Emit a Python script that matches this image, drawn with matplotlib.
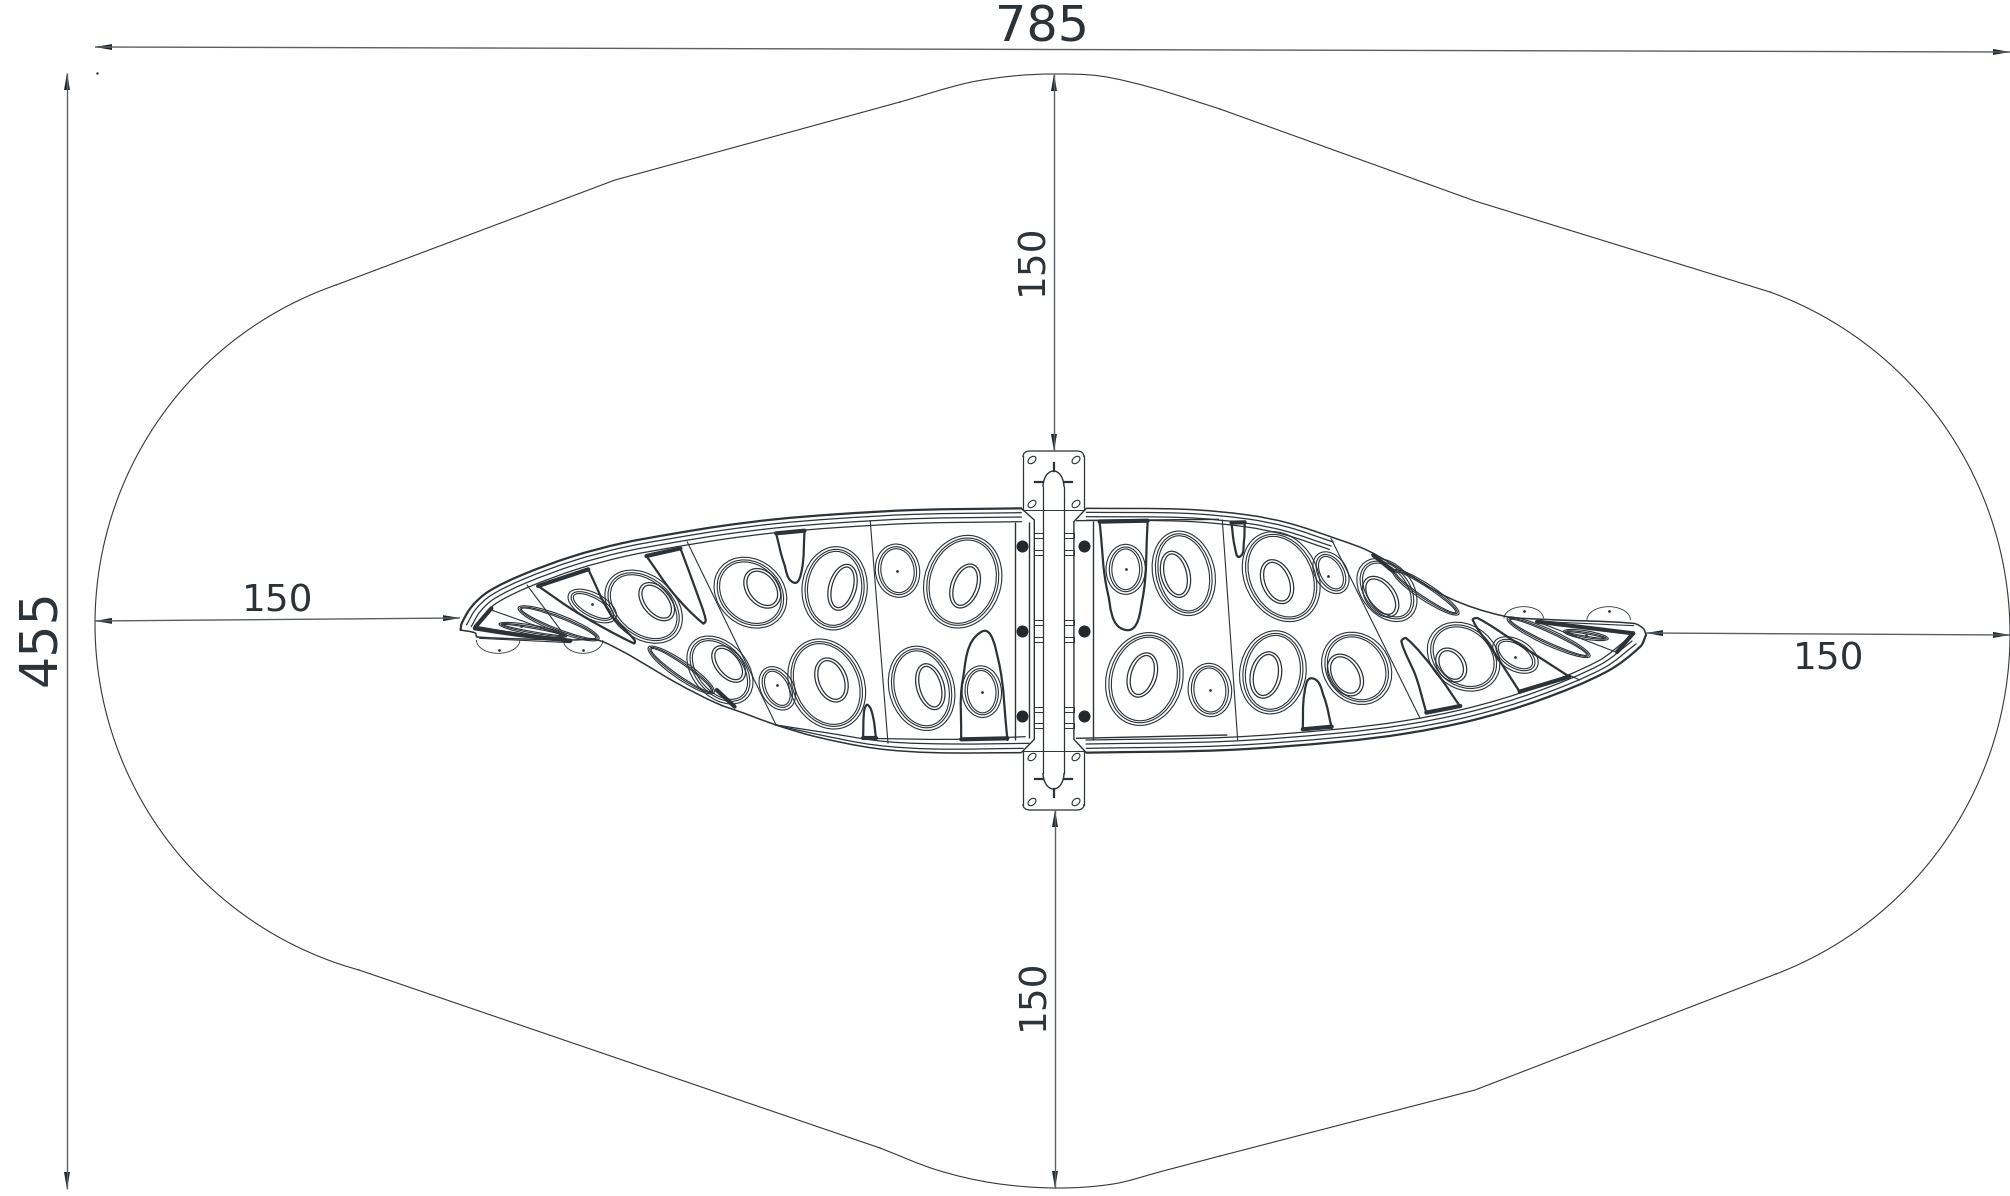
import numpy as np
import matplotlib
matplotlib.use("Agg")
import matplotlib.pyplot as plt
from matplotlib.path import Path
from matplotlib.patches import PathPatch, Ellipse, Polygon, Arc, Rectangle
from matplotlib.transforms import Affine2D

INK = "#2b3238"

# ---- dimensions -----------------------------------------------------------
DIM_VALUES = ["785", "455", "150", "150", "150", "150"]
DIM_TEXT_XY = [(1042, 27), (41, 638), (1032, 259), (1033, 994), (278, 601), (1829, 660)]
DIM_TEXT_SIZE = [35.5, 36.5, 27, 27, 27, 27]
DIM_TEXT_ROT = [0, 90, 90, 90, 0, 0]
DIM_LINES = [((95, 47), (2010, 52)), ((67, 73), (67, 1189)), ((1054, 74), (1054, 451)),
             ((1055, 810), (1055, 1188)), ((95, 621), (460, 618)), ((1646, 633), (2010, 635))]

# ---- safety-zone outline (image pixels) -----------------------------------
OUT_TOP = [(900, 102), (967, 83), (1013, 76), (1053, 74), (1100, 76), (1153, 88), (1220, 109)]
OUT_BOTTOM = [(880, 1148), (937, 1170), (993, 1183), (1055, 1188), (1113, 1184), (1163, 1171), (1220, 1156)]
OUT_LINES = [[(900, 102), (615, 180), (336, 285)], [(1220, 109), (1475, 201), (1770, 292)],
             [(359, 970), (880, 1148)], [(1220, 1156), (1475, 1090), (1776, 974)]]
OUT_ARC_LEFT = [(336, 285), (95, 624), (359, 970)]
OUT_ARC_RIGHT = [(1770, 292), (2010, 635), (1776, 974)]

# ---- left wing (zoomed coordinates) ---------------------------------------
L_TOP = [(1470, 85), (1200, 90), (1000, 103), (847, 118), (712, 138), (586, 162), (459, 190), (333, 230),
         (207, 285), (122, 335), (80, 380), (55, 430), (52, 450)]
L_LOW = [(52, 450), (89, 459), (94, 471), (329, 480), (397, 480), (455, 510), (500, 540), (600, 610), (700, 670),
         (770, 700), (850, 735), (950, 770), (1100, 805), (1250, 818), (1470, 818)]
L_LOW_2 = [(850, 735), (950, 762), (1100, 795), (1250, 807), (1475, 805)]
L_LOW_3 = [(850, 735), (960, 755), (1130, 785), (1300, 792), (1490, 790)]
L_LOW_4 = [(1070, 775), (1300, 778), (1480, 770)]
L_RINGS = [(1322, 305, 195, 280, 10), (1157, 272, 112, 160, -5), (998, 325, 165, 250, 3),
           (785, 338, 175, 220, -25), (1218, 625, 165, 255, -10), (1370, 635, 100, 155, -3),
           (978, 612, 190, 275, -15), (853, 625, 85, 135, -20), (708, 570, 145, 220, -30),
           (515, 380, 170, 240, -35), (385, 378, 75, 140, -55)]
L_LONG = [(610, 570, 50, 215, -50), (300, 430, 50, 225, -65), (235, 450, 28, 175, -78)]
L_HOLES = [(1328, 318, 72, 135, 15), (1018, 322, 70, 140, 12), (815, 325, 85, 125, -25),
           (1240, 620, 70, 140, -12), (990, 600, 80, 135, -15), (730, 552, 70, 120, -30),
           (548, 365, 75, 125, -30)]
L_DOTS = [(1157, 272), (1370, 635), (853, 615), (385, 372), (148, 510), (362, 510), (205, 438)]
L_ARCHES = [[(850, 160), (870, 250), (895, 308), (915, 270), (922, 150)],
            [(522, 228), (590, 340), (665, 430), (672, 420), (650, 340), (608, 205)],
            [(248, 318), (350, 400), (490, 490), (492, 480), (430, 400), (375, 268)],
            [(1070, 775), (1073, 690), (1082, 675), (1095, 710), (1103, 778)],
            [(1318, 780), (1322, 600), (1370, 455), (1412, 540), (1435, 780)],
            [(90, 440), (130, 385)], [(88, 440), (200, 462), (330, 482)]]
L_CAPS = [[(850, 160), (922, 152)], [(522, 228), (608, 205)], [(248, 318), (375, 268)],
          [(1070, 775), (1103, 775)], [(1318, 778), (1435, 775)], [(90, 440), (130, 385)],
          [(88, 445), (200, 465), (330, 482)], [(700, 630), (745, 680)]]
L_PANELS = [[(1088, 122), (1133, 790)], [(625, 185), (850, 735)], [(220, 315), (305, 450)],
            [(130, 390), (320, 470)], [(100, 475), (330, 488)]]
L_BUMPS = [(147, 480, 110, 80), (362, 480, 100, 80)]
L_BOLTS = [(1472, 197), (1472, 452), (1472, 707)]
L_EDGES = [[(1470, 85), (1503, 120), (1503, 778), (1470, 818)], [(1453, 125), (1453, 780)],
           [(1490, 125), (1490, 775)]]

# ---- right wing (zoomed coordinates) --------------------------------------
R_TOP = [(160, 85), (400, 88), (550, 105), (650, 130), (772, 180), (836, 210), (901, 255), (1037, 355),
         (1166, 408), (1263, 418), (1479, 430), (1503, 445), (1510, 465)]
R_TOP_RIM = [(160, 85), (400, 88), (550, 105), (650, 130), (760, 175)]
R_LOW = [(1510, 465), (1496, 500), (1415, 575), (1254, 660), (1094, 720), (933, 760), (772, 785), (500, 810),
         (160, 818)]
R_RINGS = [(255, 268, 95, 150, 0), (395, 280, 150, 255, -8), (630, 290, 180, 275, -15),
           (750, 278, 80, 130, -20), (885, 330, 130, 200, -25),
           (300, 597, 185, 280, 8), (458, 630, 105, 160, -3), (610, 577, 160, 250, 5),
           (812, 565, 165, 220, -15), (1070, 530, 165, 215, -25), (1195, 525, 85, 130, -45)]
R_LONG = [(979, 337, 45, 206, -50), (1275, 472, 45, 230, -60), (1365, 465, 25, 110, -78)]
R_HOLES = [(375, 283, 70, 140, -10), (620, 305, 75, 135, -15), (870, 350, 75, 130, -25),
           (295, 585, 70, 135, 12), (593, 585, 75, 140, 8), (785, 585, 80, 130, -20),
           (1040, 555, 70, 105, -20)]
R_DOTS = [(255, 268), (744, 288), (458, 630), (1195, 532), (1215, 393), (1420, 393), (1365, 465)]
R_ARCHES = [[(192, 125), (212, 340), (255, 450), (295, 360), (308, 120)],
            [(510, 128), (518, 200), (530, 230), (540, 185), (542, 125)],
            [(682, 750), (686, 640), (705, 595), (733, 650), (752, 745)],
            [(980, 698), (955, 590), (920, 485), (932, 475), (1000, 570), (1062, 680)],
            [(1205, 635), (1140, 510), (1092, 420), (1105, 415), (1200, 490), (1325, 590)]]
R_CAPS = [[(192, 125), (308, 122)], [(510, 128), (542, 127)], [(682, 748), (752, 740)],
          [(980, 698), (1062, 678)], [(1205, 635), (1325, 590)], [(1247, 425), (1479, 460)],
          [(1479, 460), (1440, 516)], [(852, 225), (901, 275)]]
R_PANELS = [[(488, 120), (525, 780)], [(750, 175), (965, 715)], [(1247, 425), (1435, 515)],
            [(1324, 585), (1350, 600)], [(1263, 425), (1480, 437)]]
R_BUMPS = [(1215, 415, 95, 70), (1420, 420, 105, 80)]
R_BOLTS = [(155, 197), (155, 452), (155, 707)]
R_EDGES = [[(160, 85), (130, 125), (130, 778), (160, 818)], [(175, 122), (175, 780)],
           [(135, 122), (480, 118)], [(135, 775), (500, 765)]]
CONNECT_Y = [533, 550, 620, 637, 707, 723]

# ---- mounting plate (image pixels) ----------------------------------------
PLATE_HOLES = [(1032, 460), (1076, 460), (1032, 504), (1076, 504),
               (1032, 757), (1076, 757), (1032, 802), (1076, 802)]


def smooth(points):
    p = np.asarray(points, float)
    if len(p) == 2:
        return Path(p)
    t = np.zeros_like(p)
    t[1:-1] = p[2:] - p[:-2]
    t[0] = p[1] - p[0]
    t[-1] = p[-1] - p[-2]
    t /= np.maximum(np.linalg.norm(t, axis=1, keepdims=True), 1e-9)
    v = [p[0]]
    c = [Path.MOVETO]
    for i in range(len(p) - 1):
        d = np.linalg.norm(p[i + 1] - p[i]) / 3
        v += [p[i] + t[i] * d, p[i + 1] - t[i + 1] * d, p[i + 1]]
        c += [Path.CURVE4] * 3
    return Path(np.array(v), c)


def offset(points, d):
    p = np.asarray(points, float)
    t = np.gradient(p, axis=0)
    t /= np.linalg.norm(t, axis=1, keepdims=True)
    return np.column_stack([p[:, 0] - t[:, 1] * d, p[:, 1] + t[:, 0] * d])


def circle_path(a, b, c):
    """Circular arc through three points."""
    (ax_, ay), (bx, by), (cx, cy) = a, b, c
    d = 2 * (ax_ * (by - cy) + bx * (cy - ay) + cx * (ay - by))
    ux = ((ax_**2 + ay**2) * (by - cy) + (bx**2 + by**2) * (cy - ay) + (cx**2 + cy**2) * (ay - by)) / d
    uy = ((ax_**2 + ay**2) * (cx - bx) + (bx**2 + by**2) * (ax_ - cx) + (cx**2 + cy**2) * (bx - ax_)) / d
    r = np.hypot(ax_ - ux, ay - uy)
    ang = lambda q: np.arctan2(q[1] - uy, q[0] - ux)
    a0, a1, a2 = ang(a), ang(b), ang(c)
    a1 = a0 + (a1 - a0) % (2 * np.pi) if (a1 - a0) % (2 * np.pi) < (a2 - a0) % (2 * np.pi) else a0 - (a0 - a1) % (2 * np.pi)
    a2 = a0 + (a2 - a0) % (2 * np.pi) if a1 > a0 else a0 - (a0 - a2) % (2 * np.pi)
    th = np.linspace(a0, a2, 200)
    return ux + r * np.cos(th), uy + r * np.sin(th)


fig = plt.figure(figsize=(20.10, 11.96), dpi=100, facecolor="white")
ax = fig.add_axes([0, 0, 1, 1])
ax.set_xlim(0, 2010)
ax.set_ylim(1196, 0)
ax.axis("off")

T_L = Affine2D().scale(1 / 2.529, 1 / 3).translate(440, 480) + ax.transData
T_R = Affine2D().scale(1 / 2.412, 1 / 3).translate(1020, 480) + ax.transData


def curve(points, tr, lw=0.8, color=INK):
    ax.add_patch(PathPatch(smooth(points), fc="none", ec=color, lw=lw, transform=tr, capstyle="round"))


def rings(items, tr, insets, lw=0.8):
    for cx, cy, w, h, a in items:
        for inset in insets:
            ax.add_patch(Ellipse((cx, cy), w - inset, h - inset, angle=a, fc="none", ec=INK, lw=lw, transform=tr))


# outline
OUT_COLOR = "#33393f"
curve(OUT_TOP, ax.transData, lw=0.8, color=OUT_COLOR)
curve(OUT_BOTTOM, ax.transData, lw=0.8, color=OUT_COLOR)
for seg in OUT_LINES:
    ax.plot(*zip(*seg), color=OUT_COLOR, lw=0.8)
for arc in (OUT_ARC_LEFT, OUT_ARC_RIGHT):
    ax.plot(*circle_path(*arc), color=OUT_COLOR, lw=0.8)
ax.plot([97], [73], marker=".", ms=1.5, color=INK)

# left wing
curve(L_TOP, T_L, lw=1.6)
curve(L_LOW, T_L, lw=1.1)
for d in (-13, -26, -40):
    curve(offset(L_TOP, d)[:-1], T_L, lw=0.9)
for seg in (L_LOW_2, L_LOW_3, L_LOW_4):
    curve(seg, T_L, lw=0.9)
rings(L_RINGS, T_L, [0, 16, 28])
rings(L_LONG, T_L, [0, 10, 18])
rings(L_HOLES, T_L, [0, 16], lw=0.9)
for seg in L_ARCHES:
    curve(seg, T_L, lw=1.6)
for seg in L_CAPS:
    curve(seg, T_L, lw=3.0)
for seg in L_PANELS:
    curve(seg, T_L, lw=0.8)
for seg in L_EDGES:
    ax.add_patch(PathPatch(Path(seg), fc="none", ec=INK, lw=1.0, transform=T_L))
for cx, cy, w, h in L_BUMPS:
    ax.add_patch(Arc((cx, cy), w, h, theta1=0, theta2=180, ec=INK, lw=0.6, transform=T_L))
ax.scatter(*zip(*L_DOTS), s=4, color=INK, transform=T_L, linewidths=0)
ax.scatter(*zip(*L_BOLTS), s=75, color="#23282c", transform=T_L, linewidths=0)

# right wing
curve(R_TOP, T_R, lw=1.1)
curve(R_LOW, T_R, lw=1.6)
for d in (12, 25, 36):
    curve(offset(R_TOP_RIM, d), T_R, lw=0.9)
for d in (13, 26, 38):
    curve(offset(R_LOW, d)[1:], T_R, lw=0.9)
rings(R_RINGS, T_R, [0, 16, 28])
rings(R_LONG, T_R, [0, 10, 18])
rings(R_HOLES, T_R, [0, 16], lw=0.9)
for seg in R_ARCHES:
    curve(seg, T_R, lw=1.6)
for seg in R_CAPS:
    curve(seg, T_R, lw=3.0)
for seg in R_PANELS:
    curve(seg, T_R, lw=0.8)
for seg in R_EDGES:
    ax.add_patch(PathPatch(Path(seg), fc="none", ec=INK, lw=1.0, transform=T_R))
for cx, cy, w, h in R_BUMPS:
    ax.add_patch(Arc((cx, cy), w, h, theta1=180, theta2=360, ec=INK, lw=0.6, transform=T_R))
ax.scatter(*zip(*R_DOTS), s=4, color=INK, transform=T_R, linewidths=0)
ax.scatter(*zip(*R_BOLTS), s=75, color="#23282c", transform=T_R, linewidths=0)

# plate
for x in (1023, 1084):
    ax.plot([x, x], [456, 510], color=INK, lw=0.9)
    ax.plot([x, x], [751, 805], color=INK, lw=0.9)
for yy, sgn in ((451, 1), (810, -1)):
    ax.add_patch(PathPatch(Path([(1023, yy + 6 * sgn), (1023, yy), (1030, yy), (1077, yy), (1084, yy), (1084, yy + 6 * sgn)],
                                [Path.MOVETO, Path.CURVE3, Path.CURVE3, Path.LINETO, Path.CURVE3, Path.CURVE3]),
                           fc="none", ec=INK, lw=0.9))
for x, y in PLATE_HOLES:
    ax.add_patch(Ellipse((x, y), 6, 9, angle=50, fc="none", ec=INK, lw=0.8))
ax.add_patch(Arc((1053.5, 487), 21, 32, theta1=180, theta2=360, ec=INK, lw=1.0))
ax.add_patch(Arc((1053.5, 773), 21, 32, theta1=0, theta2=180, ec=INK, lw=1.0))
for x in (1043, 1064):
    ax.plot([x, x], [487, 773], color=INK, lw=0.9)
for y in (510, 751):
    ax.plot([1023, 1084], [y, y], color=INK, lw=0.7)
for y in (482, 779):
    ax.plot([1035, 1043], [y, y], color=INK, lw=1.6)
    ax.plot([1064, 1072], [y, y], color=INK, lw=1.6)
ax.plot([1053.5, 1053.5], [463, 471], color=INK, lw=1.6)
ax.plot([1053.5, 1053.5], [789, 797], color=INK, lw=1.6)
for y in CONNECT_Y:
    for x0 in (1034, 1064):
        ax.add_patch(Rectangle((x0, y), 9 if x0 == 1034 else 10, 5, fc="none", ec=INK, lw=0.7))

# dimension lines with arrows
for (a, b) in DIM_LINES:
    a = np.array(a, float)
    b = np.array(b, float)
    ax.plot([a[0], b[0]], [a[1], b[1]], color="#5a6066", lw=1.0, solid_capstyle="butt")
    u = (b - a) / np.linalg.norm(b - a)
    n = np.array([-u[1], u[0]])
    for tip, s in ((a, 1), (b, -1)):
        base = tip + s * 17 * u
        ax.add_patch(Polygon([tip, base + 3 * n, base - 3 * n], closed=True, fc="#23282c", ec="none"))

for txt, (x, y), fs, rot in zip(DIM_VALUES, DIM_TEXT_XY, DIM_TEXT_SIZE, DIM_TEXT_ROT):
    ax.text(x, y, txt, fontsize=fs, rotation=rot, ha="center", va="center", color=INK,
            family="DejaVu Sans")

fig.savefig("out.png", dpi=100, facecolor="white")
